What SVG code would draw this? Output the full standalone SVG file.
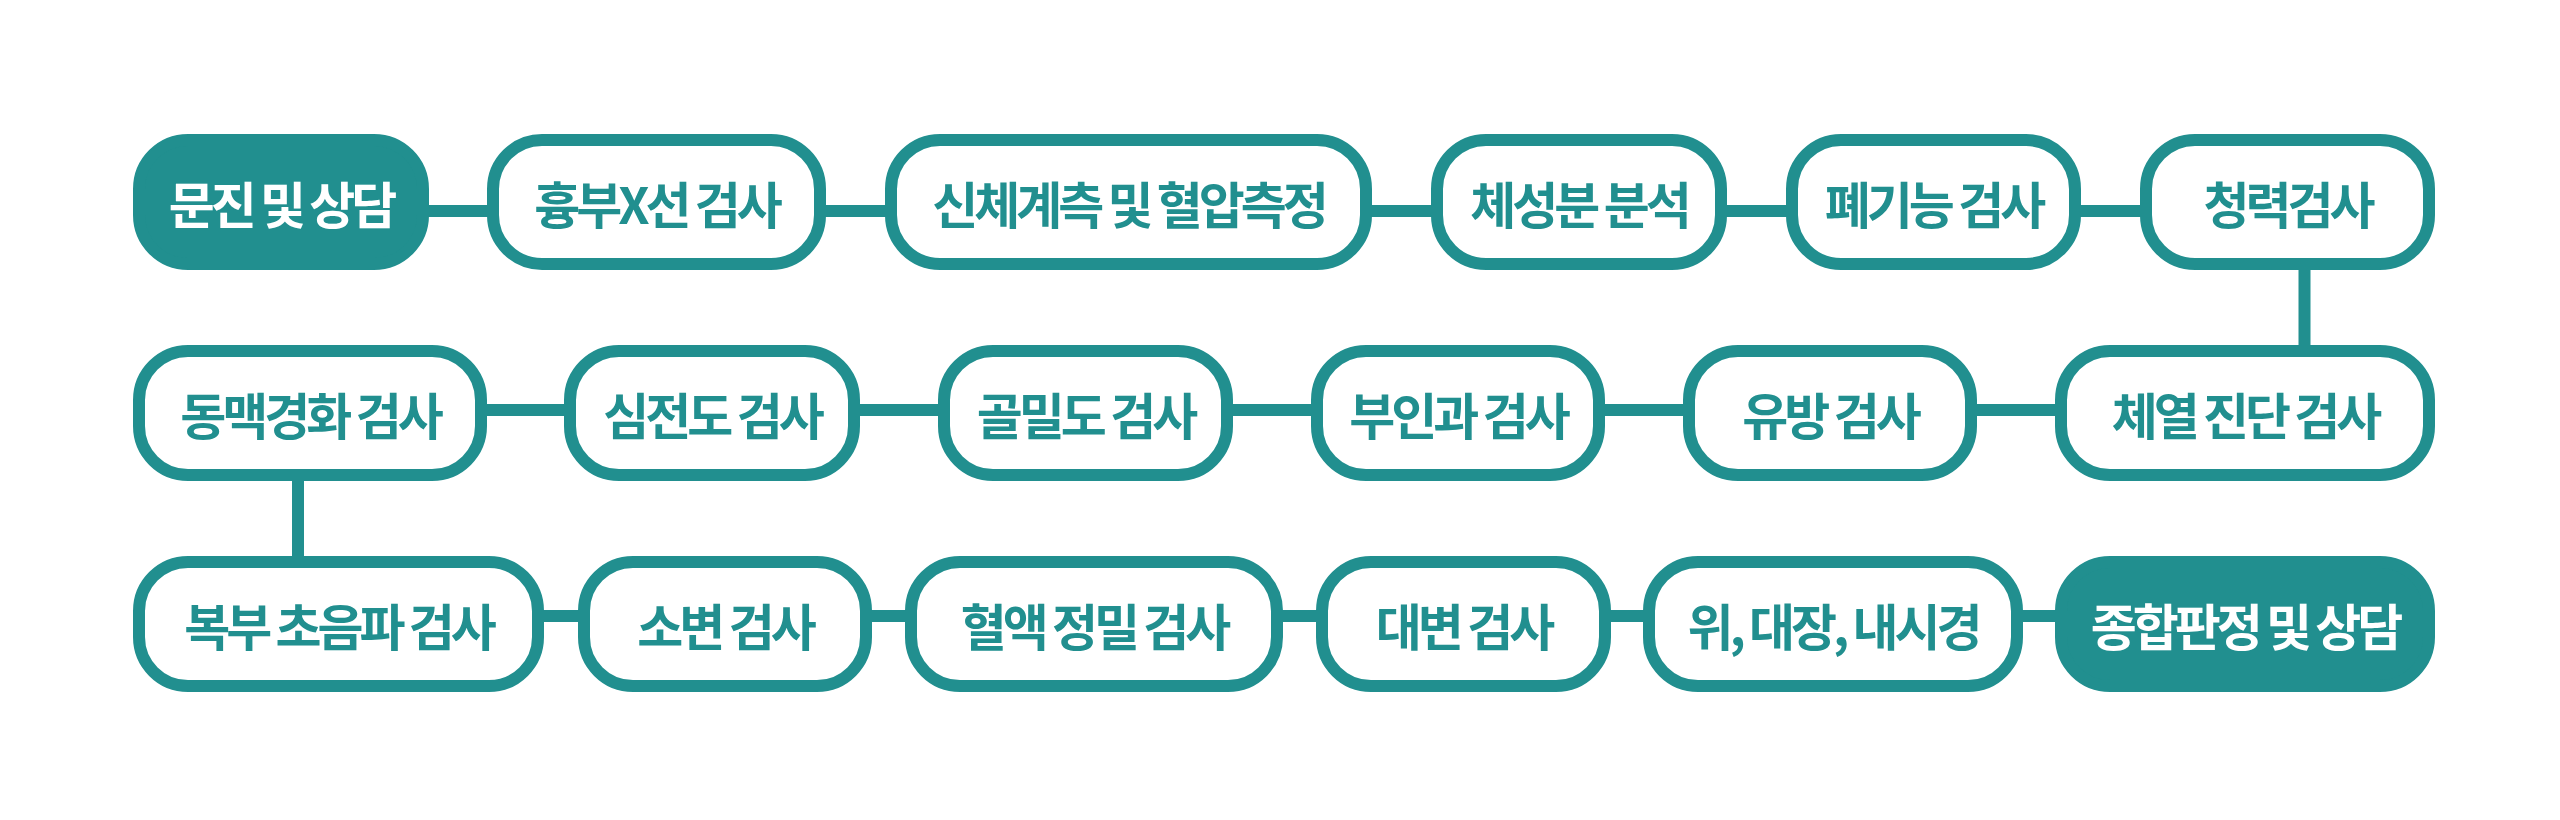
<svg xmlns="http://www.w3.org/2000/svg" width="2560" height="820" viewBox="0 0 2560 820">
<style>
.box{fill:#ffffff;stroke:#218f8f;stroke-width:12}
.fbox{fill:#218f8f;stroke:#218f8f;stroke-width:12}
.t{font-family:"Noto Sans CJK KR","Noto Sans",sans-serif;font-weight:700;font-size:50px;letter-spacing:-4px;fill:#218f8f;text-anchor:middle;dominant-baseline:central}
.ft{fill:#ffffff}
.c{stroke:#218f8f;stroke-width:12;fill:none}
</style>
<rect width="2560" height="820" fill="#ffffff"/>
<g id="connectors">
<line class="c" x1="425" y1="211" x2="491" y2="211"/>
<line class="c" x1="822" y1="211" x2="889" y2="211"/>
<line class="c" x1="1368" y1="211" x2="1435" y2="211"/>
<line class="c" x1="1723" y1="211" x2="1790" y2="211"/>
<line class="c" x1="2077" y1="211" x2="2144" y2="211"/>
<line class="c" x1="2304.5" y1="266" x2="2304.5" y2="349"/>
<line class="c" x1="483" y1="410" x2="568" y2="410"/>
<line class="c" x1="856" y1="410" x2="942" y2="410"/>
<line class="c" x1="1229" y1="410" x2="1315" y2="410"/>
<line class="c" x1="1601" y1="410" x2="1687" y2="410"/>
<line class="c" x1="1973" y1="410" x2="2059" y2="410"/>
<line class="c" x1="298" y1="477" x2="298" y2="560"/>
<line class="c" x1="540" y1="616" x2="582" y2="616"/>
<line class="c" x1="868" y1="616" x2="909" y2="616"/>
<line class="c" x1="1279" y1="616" x2="1320" y2="616"/>
<line class="c" x1="1607" y1="616" x2="1647" y2="616"/>
<line class="c" x1="2019" y1="616" x2="2059" y2="616"/>
</g>
<g id="n1"><rect class="fbox" x="139" y="140" width="284" height="124" rx="49"/><text class="t ft" x="281" y="202">문진 및 상담</text></g>
<g id="n2"><rect class="box" x="493" y="140" width="327" height="124" rx="49"/><text class="t" x="656.5" y="202">흉부X선 검사</text></g>
<g id="n3"><rect class="box" x="891" y="140" width="475" height="124" rx="49"/><text class="t" x="1128.5" y="202">신체계측 및 혈압측정</text></g>
<g id="n4"><rect class="box" x="1437" y="140" width="284" height="124" rx="49"/><text class="t" x="1579" y="202">체성분 분석</text></g>
<g id="n5"><rect class="box" x="1792" y="140" width="283" height="124" rx="49"/><text class="t" x="1933.5" y="202">폐기능 검사</text></g>
<g id="n6"><rect class="box" x="2146" y="140" width="283" height="124" rx="49"/><text class="t" x="2287.5" y="202">청력검사</text></g>
<g id="m1"><rect class="box" x="139" y="351" width="342" height="124" rx="49"/><text class="t" x="310" y="413">동맥경화 검사</text></g>
<g id="m2"><rect class="box" x="570" y="351" width="284" height="124" rx="49"/><text class="t" x="712" y="413">심전도 검사</text></g>
<g id="m3"><rect class="box" x="944" y="351" width="283" height="124" rx="49"/><text class="t" x="1085.5" y="413">골밀도 검사</text></g>
<g id="m4"><rect class="box" x="1317" y="351" width="282" height="124" rx="49"/><text class="t" x="1458" y="413">부인과 검사</text></g>
<g id="m5"><rect class="box" x="1689" y="351" width="282" height="124" rx="49"/><text class="t" x="1830" y="413">유방 검사</text></g>
<g id="m6"><rect class="box" x="2061" y="351" width="368" height="124" rx="49"/><text class="t" x="2245" y="413">체열 진단 검사</text></g>
<g id="k1"><rect class="box" x="139" y="562" width="399" height="124" rx="49"/><text class="t" x="338.5" y="624">복부 초음파 검사</text></g>
<g id="k2"><rect class="box" x="584" y="562" width="282" height="124" rx="49"/><text class="t" x="725" y="624">소변 검사</text></g>
<g id="k3"><rect class="box" x="911" y="562" width="366" height="124" rx="49"/><text class="t" x="1094" y="624">혈액 정밀 검사</text></g>
<g id="k4"><rect class="box" x="1322" y="562" width="283" height="124" rx="49"/><text class="t" x="1463.5" y="624">대변 검사</text></g>
<g id="k5"><rect class="box" x="1649" y="562" width="368" height="124" rx="49"/><text class="t" x="1833" y="624">위, 대장, 내시경</text></g>
<g id="k6"><rect class="fbox" x="2061" y="562" width="368" height="124" rx="49"/><text class="t ft" x="2245" y="624">종합판정 및 상담</text></g>
</svg>
